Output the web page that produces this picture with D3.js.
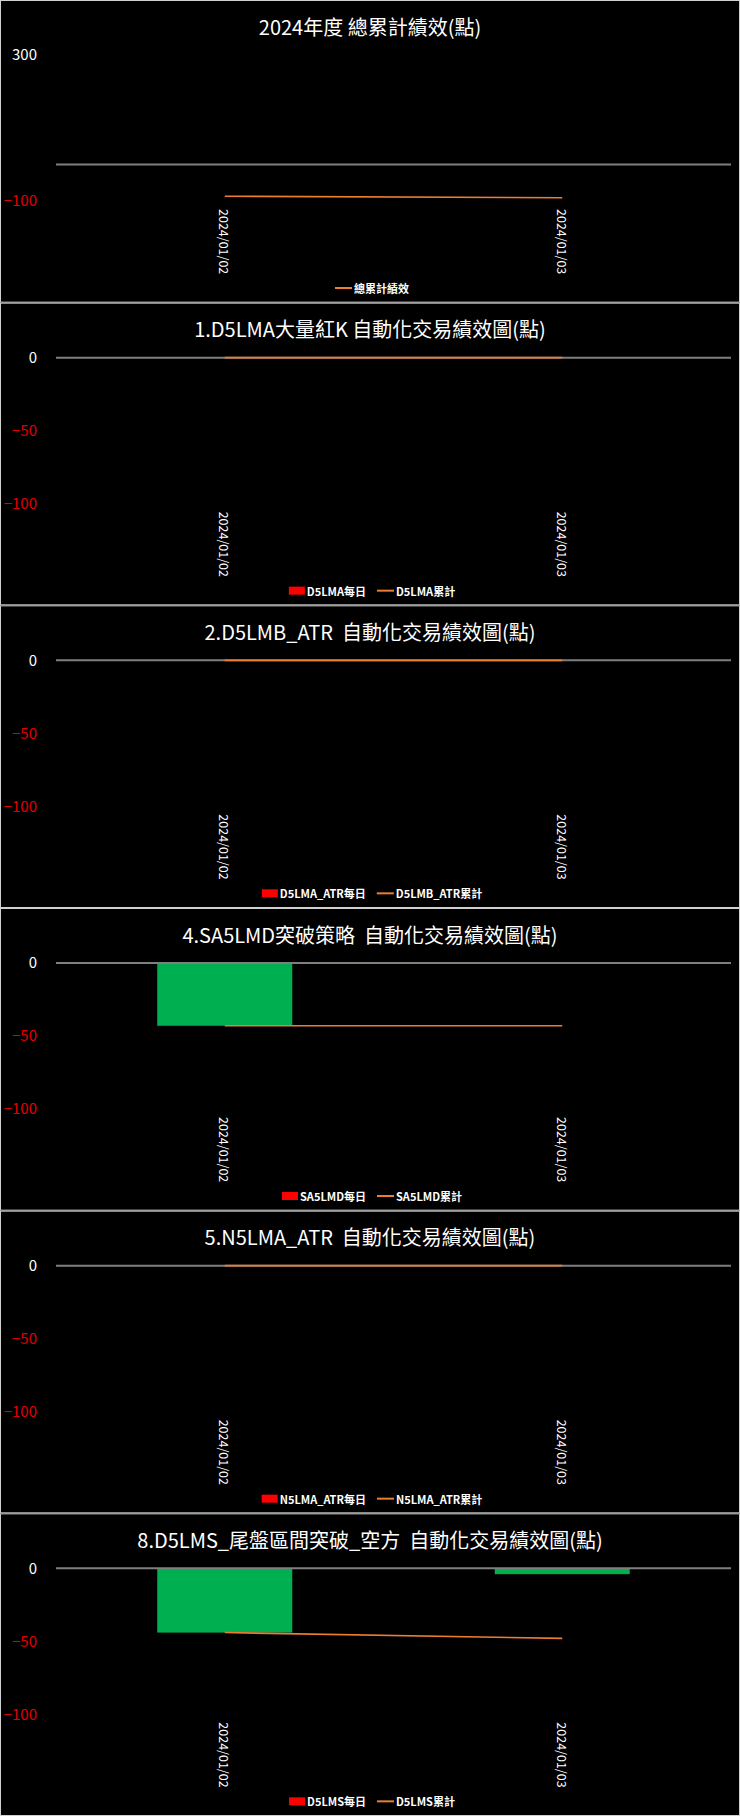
<!DOCTYPE html>
<html>
<head>
<meta charset="utf-8">
<script src="https://cdn.jsdelivr.net/npm/d3@7"></script>
<style>
  html, body { margin: 0; padding: 0; background: #000; }
  svg { display: block; }
  text { font-family: "Noto Sans CJK TC", "Noto Sans", sans-serif; white-space: pre; }
</style>
</head>
<body>
<svg id="chart" width="740" height="1816"></svg>
<script>
// shared categories
var dates = ['2024/01/02', '2024/01/03'];

// total panel
var totalTitle = '2024年度 總累計績效(點)';
var totalCum = [-87, -91];
var totalTicks = [300, -100];

// strategy panels
var titles = [
  '1.D5LMA大量紅K 自動化交易績效圖(點)',
  '2.D5LMB_ATR  自動化交易績效圖(點)',
  '4.SA5LMD突破策略  自動化交易績效圖(點)',
  '5.N5LMA_ATR  自動化交易績效圖(點)',
  '8.D5LMS_尾盤區間突破_空方  自動化交易績效圖(點)'
];
var dailyNames = ['D5LMA每日', 'D5LMA_ATR每日', 'SA5LMD每日', 'N5LMA_ATR每日', 'D5LMS每日'];
var cumNames = ['D5LMA累計', 'D5LMB_ATR累計', 'SA5LMD累計', 'N5LMA_ATR累計', 'D5LMS累計'];
var daily = [
  [0, 0],
  [0, 0],
  [-43, 0],
  [0, 0],
  [-44, -4]
];
var cum = [
  [0, 0],
  [0, 0],
  [-43, -43],
  [0, 0],
  [-44, -48]
];
var panelTicks = [0, -50, -100];

var W = 740, H = 1816, nPanels = 6, PH = H / nPanels;
var svg = d3.select('#chart');
svg.append('rect').attr('width', W).attr('height', H).attr('fill', '#000');

var x = d3.scaleBand().domain(dates).range([56, 731]);

function drawPanel(i, opt) {
  var g = svg.append('g').attr('transform', 'translate(0,' + (i * PH) + ')');
  g.append('rect').attr('x', 0.5).attr('y', 0.5).attr('width', W - 1).attr('height', PH - 1)
    .attr('fill', '#000').attr('stroke', '#d0d0d0').attr('stroke-width', 1);

  g.append('text').attr('x', 370).attr('y', 26).attr('text-anchor', 'middle')
    .attr('dominant-baseline', 'central').attr('fill', '#fff')
    .attr('font-size', 20).text(opt.title);

  var y = d3.scaleLinear().domain(opt.domain).range([201, 55]);

  // y labels
  var yAxis = g.append('g').attr('transform', 'translate(37,0)')
    .call(d3.axisLeft(y).tickValues(opt.ticks).tickSize(0).tickPadding(0).tickFormat(d3.format('d')));
  yAxis.select('.domain').remove();
  yAxis.selectAll('text').attr('font-size', 15)
    .attr('font-family', '"Noto Sans CJK TC", sans-serif')
    .attr('fill', function(d){ return d < 0 ? '#e00000' : '#fff'; });

  // bars
  if (opt.daily) {
    var bw = x.bandwidth() * 0.4;
    g.selectAll('.bar').data(opt.daily).enter().append('rect')
      .attr('x', function(d, j){ return x(dates[j]) + x.bandwidth() / 2 - bw / 2; })
      .attr('y', function(d){ return y(Math.max(0, d)); })
      .attr('width', bw)
      .attr('height', function(d){ return Math.abs(y(d) - y(0)); })
      .attr('fill', function(d){ return d < 0 ? '#00b050' : '#ff0000'; });
  }

  // zero axis line
  g.append('line').attr('x1', 56).attr('x2', 731).attr('y1', y(0)).attr('y2', y(0))
    .attr('stroke', '#7f7f7f').attr('stroke-width', 2);

  // cumulative line
  var line = d3.line()
    .x(function(d, j){ return x(dates[j]) + x.bandwidth() / 2; })
    .y(function(d){ return y(d); });
  g.append('path').datum(opt.cum).attr('d', line)
    .attr('fill', 'none').attr('stroke', '#ed7d31').attr('stroke-width', 1.6);

  // date labels
  var xAxis = g.append('g').attr('transform', 'translate(0,209)')
    .call(d3.axisBottom(x).tickSize(0).tickPadding(0));
  xAxis.select('.domain').remove();
  xAxis.selectAll('text')
    .attr('font-size', 12.5).attr('fill', '#fff')
    .attr('font-family', '"Noto Sans CJK TC", sans-serif')
    .attr('text-anchor', 'start').attr('dy', null).attr('y', 0).attr('x', 0)
    .attr('dominant-baseline', 'central')
    .attr('transform', 'rotate(90)');

  // legend
  var lg = g.append('g').attr('transform', 'translate(0,288)');
  var cx = 0;
  if (opt.dailyName) {
    lg.append('rect').attr('x', cx).attr('y', -4).attr('width', 16).attr('height', 8).attr('fill', '#ff0000');
    cx += 18;
    var t1 = lg.append('text').attr('x', cx).attr('y', 0).attr('dominant-baseline', 'central')
      .attr('fill', '#fff').attr('font-size', 11).attr('font-weight', 'bold').text(opt.dailyName);
    cx += t1.node().getComputedTextLength() + 11;
  }
  lg.append('line').attr('x1', cx).attr('x2', cx + 17).attr('y1', 0).attr('y2', 0)
    .attr('stroke', '#ed7d31').attr('stroke-width', 2);
  cx += 19;
  var t2 = lg.append('text').attr('x', cx).attr('y', 0).attr('dominant-baseline', 'central')
    .attr('fill', '#fff').attr('font-size', 11).attr('font-weight', 'bold').text(opt.cumName);
  cx += t2.node().getComputedTextLength();
  lg.attr('transform', 'translate(' + (372 - cx / 2) + ',288)');
}

drawPanel(0, {title: totalTitle, domain: [-100, 300], ticks: totalTicks, cum: totalCum, cumName: '總累計績效'});
titles.forEach(function(t, k) {
  drawPanel(k + 1, {
    title: t, domain: [-100, 0], ticks: panelTicks,
    daily: daily[k], cum: cum[k], dailyName: dailyNames[k], cumName: cumNames[k]
  });
});
</script>
</body>
</html>
